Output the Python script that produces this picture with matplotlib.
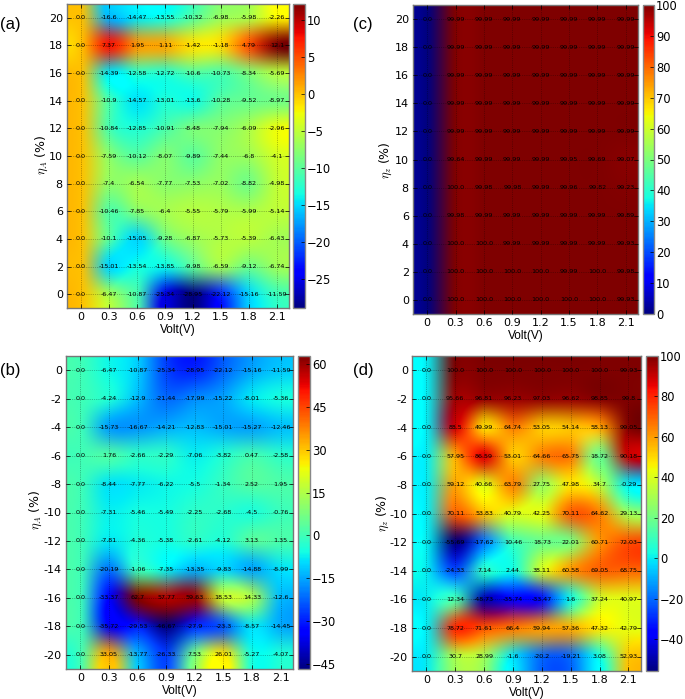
import matplotlib
matplotlib.use("Agg")
import matplotlib.pyplot as plt
import numpy as np

W, H = 685, 699

volts = [0, 0.3, 0.6, 0.9, 1.2, 1.5, 1.8, 2.1]
volt_labels = ["0", "0.3", "0.6", "0.9", "1.2", "1.5", "1.8", "2.1"]
eta_pos = [20, 18, 16, 14, 12, 10, 8, 6, 4, 2, 0]
eta_neg = [0, -2, -4, -6, -8, -10, -12, -14, -16, -18, -20]

vals_a = [
    [0.0, -16.6, -14.47, -13.55, -10.32, -6.98, -5.98, -2.26],
    [0.0, 7.37, 1.95, 1.11, -1.42, -1.18, 4.79, 12.1],
    [0.0, -14.39, -12.58, -12.72, -10.6, -10.73, -8.34, -5.69],
    [0.0, -10.9, -14.57, -13.01, -13.6, -10.28, -9.52, -8.97],
    [0.0, -10.84, -12.85, -10.91, -8.48, -7.94, -6.09, -2.96],
    [0.0, -7.59, -10.12, -8.07, -9.89, -7.44, -6.8, -4.1],
    [0.0, -7.4, -6.54, -7.77, -7.53, -7.02, -8.82, -4.98],
    [0.0, -10.46, -7.85, -6.4, -5.55, -5.79, -5.99, -5.14],
    [0.0, -10.1, -15.05, -9.28, -6.87, -5.73, -5.39, -6.43],
    [0.0, -15.01, -13.54, -13.85, -9.98, -6.59, -9.12, -6.74],
    [0.0, -6.47, -10.87, -25.34, -28.95, -22.12, -15.16, -11.59],
]
vals_b = [
    [0.0, -6.47, -10.87, -25.34, -28.95, -22.12, -15.16, -11.59],
    [0.0, -4.24, -12.9, -21.44, -17.99, -15.22, -8.01, -5.36],
    [0.0, -15.73, -16.67, -14.21, -12.83, -15.01, -15.27, -12.46],
    [0.0, 1.76, -2.66, -2.29, -7.06, -3.82, 0.47, -2.58],
    [0.0, -8.44, -7.77, -6.22, -5.5, -1.34, 2.52, 1.95],
    [0.0, -7.31, -5.46, -5.49, -2.25, -2.68, -4.5, -0.76],
    [0.0, -7.81, -4.36, -5.38, -2.61, -4.12, 3.13, 1.35],
    [0.0, -20.19, -1.06, -7.35, -13.35, -9.83, -14.88, -8.99],
    [0.0, -33.37, 62.7, 57.77, 59.63, 18.53, 14.33, -12.6],
    [0.0, -35.72, -29.53, -46.67, -27.9, -23.3, -8.57, -14.45],
    [0.0, 33.05, -13.77, -26.33, 7.53, 26.01, -5.27, -4.07],
]
vals_c = [
    [0.0, 99.99, 99.99, 99.99, 99.99, 99.99, 99.99, 99.99],
    [0.0, 99.99, 99.99, 99.99, 99.99, 99.99, 99.99, 99.99],
    [0.0, 99.99, 99.99, 99.99, 99.99, 99.99, 99.99, 99.99],
    [0.0, 99.99, 99.99, 99.99, 99.99, 99.99, 99.99, 99.99],
    [0.0, 99.99, 99.99, 99.99, 99.99, 99.99, 99.99, 99.99],
    [0.0, 99.64, 99.99, 99.99, 99.99, 99.95, 99.69, 99.07],
    [0.0, 100.0, 99.98, 99.98, 99.99, 99.96, 99.82, 99.23],
    [0.0, 99.98, 99.99, 99.99, 99.99, 99.99, 99.99, 99.89],
    [0.0, 100.0, 100.0, 99.99, 99.99, 99.99, 99.99, 99.93],
    [0.0, 100.0, 100.0, 100.0, 100.0, 99.99, 100.0, 99.98],
    [0.0, 100.0, 100.0, 100.0, 100.0, 100.0, 100.0, 99.93],
]
vals_d = [
    [0.0, 100.0, 100.0, 100.0, 100.0, 100.0, 100.0, 99.93],
    [0.0, 95.66, 96.81, 96.23, 97.03, 96.62, 98.85, 99.8],
    [0.0, 88.5, 49.99, 64.74, 53.05, 54.14, 58.13, 99.05],
    [0.0, 57.95, 86.59, 53.01, 64.66, 65.75, 18.72, 90.18],
    [0.0, 59.12, 40.66, 63.79, 27.75, 47.98, 34.7, -0.29],
    [0.0, 70.11, 53.83, 40.79, 42.25, 70.11, 64.62, 29.13],
    [0.0, -55.69, -17.62, 10.46, 18.73, 22.01, 60.71, 72.03],
    [0.0, -24.33, 7.14, 2.44, 38.11, 60.58, 69.05, 68.75],
    [0.0, 12.34, -48.73, -35.74, -33.47, 1.6, 37.24, 40.97],
    [0.0, 78.72, 71.61, 66.4, 59.94, 57.36, 47.32, 42.79],
    [0.0, 30.7, 28.99, -1.6, -20.2, -19.21, 3.08, 52.93],
]

ticks_a = [-25, -20, -15, -10, -5, 0, 5, 10]
ticks_b = [-45, -30, -15, 0, 15, 30, 45, 60]
ticks_c = list(range(0, 101, 10))
ticks_d = [-40, -20, 0, 20, 40, 60, 80, 100]


def px_axes(fig, left, top, right, bottom):
    return fig.add_axes([left / W, 1 - bottom / H, (right - left) / W, (bottom - top) / H])


def panel(fig, box, cbox, vals, etas, cticks, name, name_xy, ylab, ylab_xy):
    ax = px_axes(fig, *box)
    arr = np.array(vals)
    ylo, yhi = min(etas) - 1, max(etas) + 1
    # colours are blended after the colormap: blue to red goes through purple
    im = ax.imshow(arr, cmap="jet", interpolation="spline16", interpolation_stage="rgba",
                   aspect="auto", extent=(-0.15, 2.25, ylo, yhi),
                   vmin=arr.min(), vmax=arr.max())
    ax.set_xlim(-0.15, 2.23)
    ax.set_ylim(ylo, yhi)
    ax.set_xticks(volts)
    ax.set_xticklabels(volt_labels)
    ax.set_yticks(etas)
    ax.set_yticklabels([str(e) for e in etas])  # plain hyphen on this axis
    ax.tick_params(direction="in", length=3, width=0.5, labelsize=8, pad=3,
                   top=True, right=True)
    ax.grid(True, color="k", linestyle=":", linewidth=0.5, alpha=0.5)
    ax.set_axisbelow(False)
    for s in ax.spines.values():
        s.set_color("#777777")
        s.set_linewidth(1)
    for i, eta in enumerate(etas):
        for j, v in enumerate(volts):
            ax.text(v, eta, str(vals[i][j]), ha="center", va="center", fontsize=4.6,
                    color="k")
    ax.set_xlabel("Volt(V)", fontsize=8.6, family="Liberation Sans", labelpad=1.5)

    cax = px_axes(fig, *cbox)
    cb = fig.colorbar(im, cax=cax, ticks=cticks)
    cb.ax.tick_params(labelsize=8.3, length=3, width=0.5, direction="in", pad=1.5)
    cb.outline.set_edgecolor("#888888")
    cb.outline.set_linewidth(1)

    fig.text(name_xy[0] / W, 1 - name_xy[1] / H, name, fontsize=12,
             family="Liberation Sans", ha="left", va="center")
    fig.text(ylab_xy[0] / W, 1 - ylab_xy[1] / H, ylab, fontsize=9, rotation=90,
             ha="center", va="center", math_fontfamily="cm")


fig = plt.figure(figsize=(W / 100, H / 100), dpi=100)

panel(fig, (67, 4, 289, 308), (293, 4, 305, 308), vals_a, eta_pos, ticks_a,
      "(a)", (0, 24), r"$\eta_A$ (%)", (42, 155))
panel(fig, (66, 356, 293, 669), (298, 356, 310, 669), vals_b, eta_neg, ticks_b,
      "(b)", (0, 371), r"$\eta_A$ (%)", (36, 510))
panel(fig, (413, 5, 638, 314), (643, 5, 654, 314), vals_c, eta_pos, ticks_c,
      "(c)", (353, 25), r"$\eta_z$ (%)", (386, 160))
panel(fig, (412, 356, 641, 671), (646, 356, 658, 671), vals_d, eta_neg, ticks_d,
      "(d)", (353, 371), r"$\eta_z$ (%)", (383, 513))

fig.savefig("out.png", dpi=100)
